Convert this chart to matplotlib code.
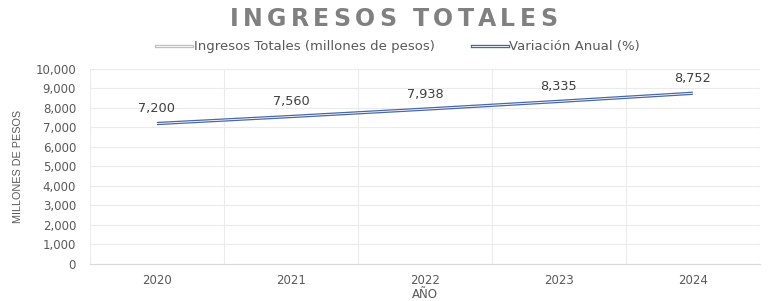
import matplotlib.pyplot as plt
import matplotlib.patheffects as pe
from matplotlib.lines import Line2D
import numpy as np

years = ["2020", "2021", "2022", "2023", "2024"]
ingresos = [7200, 7560, 7938, 8335, 8752]
labels = ["7,200", "7,560", "7,938", "8,335", "8,752"]

plt.rcParams['font.family'] = ['DejaVu Sans']
txt = "#595959"
W, H = 769, 301

fig = plt.figure(figsize=(W / 100, H / 100), dpi=100)
ax = fig.add_axes([0.117, 0.123, 0.871, 0.648])
x = np.arange(len(years))

# double line look: coloured stroke with white core
ax.plot(x, ingresos, color="#4a68a8", lw=2.4, solid_capstyle="butt", zorder=3)
ax.plot(x, ingresos, color="white", lw=0.6, solid_capstyle="butt", zorder=4)
for xi, v, s in zip(x, ingresos, labels):
    ax.annotate(s, (xi, v), xytext=(0, 6), textcoords="offset points",
                ha="center", va="bottom", fontsize=9.3, color="#404040")

ax.set_xlim(-0.5, len(years) - 0.5)
ax.set_ylim(0, 10000)
ax.set_yticks(range(0, 10001, 1000))
ax.set_yticklabels([f"{v:,}" for v in range(0, 10001, 1000)])
ax.set_xticks(x)
ax.set_xticklabels(years)
ax.set_xticks(np.arange(-0.5, len(years), 1), minor=True)
ax.grid(axis="y", color="#ebebeb", lw=0.8)
ax.grid(axis="x", which="minor", color="#ebebeb", lw=0.8)
ax.set_axisbelow(True)
for s in ["top", "right", "left"]:
    ax.spines[s].set_visible(False)
ax.spines["bottom"].set_color("#d9d9d9")
ax.tick_params(which="both", length=0, labelsize=8.5, colors=txt)
ax.tick_params(axis="y", pad=10)
ax.tick_params(axis="x", pad=7)

ax.set_xlabel("AÑO", fontsize=8.5, color=txt, labelpad=1)
ax.set_ylabel("MILLONES DE PESOS", fontsize=7.8, color=txt, labelpad=9,
              family="Liberation Sans")

# spaced-out title, drawn letter by letter
title = "INGRESOS TOTALES"
x0, x1, ty = 230, 557, 0.937
r = fig.canvas.get_renderer()
parts = [fig.text(0, ty, c, fontsize=17, fontweight="bold", color="#808080",
                  family="DejaVu Sans", va="center") for c in title]
widths = [p.get_window_extent(r).width if c != " " else 8 for p, c in zip(parts, title)]
gap = (x1 - x0 - sum(widths)) / (len(title) - 1)
pos = x0
for p, w in zip(parts, widths):
    p.set_x(pos / W)
    pos += w + gap

# legend with double-line samples
h1 = Line2D([], [], color="#bfbfbf", lw=2.4)
h2 = Line2D([], [], color="#4a68a8", lw=2.4)
leg = fig.legend([h1, h2], ["Ingresos Totales (millones de pesos)", "Variación Anual (%)"],
                 loc="center", bbox_to_anchor=(0.518, 0.845), ncol=2, frameon=False,
                 fontsize=9.5, handlelength=2.7, handletextpad=0.15, columnspacing=2.8)
for t in leg.get_texts():
    t.set_color(txt)
for ln in leg.get_lines():
    ln.set_path_effects([pe.Stroke(linewidth=2.4, foreground=ln.get_color()),
                         pe.Stroke(linewidth=0.6, foreground="white")])

fig.savefig("out.png", dpi=100)
